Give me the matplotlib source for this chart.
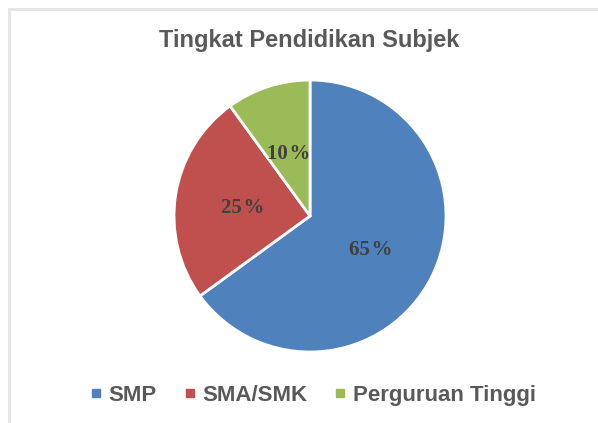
import matplotlib.pyplot as plt
from matplotlib.lines import Line2D

categories = ['SMP', 'SMA/SMK', 'Perguruan Tinggi']
values = [65, 25, 10]
colors = ['#4F81BD', '#C0504D', '#9BBB59']

fig = plt.figure(figsize=(5.98, 4.23), dpi=100)

# light frame at top and left
fig.add_artist(Line2D([0.015, 1.0], [0.979, 0.979], color='#e4e4e4', lw=2))
fig.add_artist(Line2D([0.015, 0.015], [0.979, 0.0], color='#e4e4e4', lw=2))

# pie in its own axes: center (310, 216), radius 136 px
r = 136
cx, cy = 310, 216
pax = fig.add_axes([(cx - r) / 598, 1 - (cy + r) / 423, 2 * r / 598, 2 * r / 423])
wedges, texts, autotexts = pax.pie(
    values, colors=colors, startangle=90, counterclock=False,
    autopct='%d\u200a%%', pctdistance=0.5,
    wedgeprops=dict(edgecolor='white', linewidth=2),
    textprops=dict(family='Liberation Serif', fontweight='bold', fontsize=15, color='#404040'))
pax.set_aspect('auto')
pax.set_xlim(-1, 1)
pax.set_ylim(-1, 1)
for t in autotexts:
    x, y = t.get_position()
    t.set_position((x, y - 0.02))

fig.text(309 / 598, 1 - 47 / 423, 'Tingkat Pendidikan Subjek', ha='center', va='baseline',
         family='Liberation Sans', fontweight='bold', fontsize=17, color='#595959')

handles = [Line2D([], [], marker='s', linestyle='', markersize=6, color=c) for c in colors]
leg = fig.legend(handles, categories, loc='center', bbox_to_anchor=(313 / 598, 1 - 395 / 423),
                 ncol=3, frameon=False, handlelength=0.5, handletextpad=0.3, columnspacing=1.25,
                 prop=dict(family='Liberation Sans', weight='bold', size=16))
for t in leg.get_texts():
    t.set_color('#595959')

fig.savefig('out.png', dpi=100, facecolor='white')
